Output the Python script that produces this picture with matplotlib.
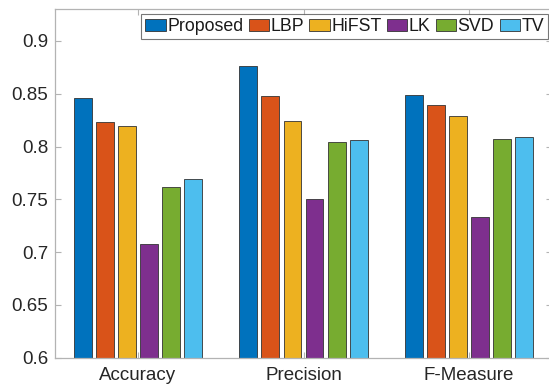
import matplotlib
matplotlib.use("Agg")
import matplotlib.pyplot as plt
import numpy as np

plt.rcParams['font.family'] = ['Liberation Sans', 'DejaVu Sans']

categories = ["Accuracy", "Precision", "F-Measure"]
methods = ["Proposed", "LBP", "HiFST", "LK", "SVD", "TV"]
proposed = [0.846, 0.876, 0.849]
lbp = [0.823, 0.848, 0.839]
hifst = [0.819, 0.824, 0.829]
lk = [0.708, 0.750, 0.733]
svd = [0.762, 0.804, 0.807]
tv = [0.769, 0.806, 0.809]
series = [proposed, lbp, hifst, lk, svd, tv]
colors = ["#0072BD", "#D95319", "#EDB120", "#7E2F8E", "#77AC30", "#4DBEEE"]
yticks = [0.6, 0.65, 0.7, 0.75, 0.8, 0.85, 0.9]
ytick_labels = ["0.6", "0.65", "0.7", "0.75", "0.8", "0.85", "0.9"]

fig = plt.figure(figsize=(5.49, 3.86), dpi=100)
ax = fig.add_axes([55/549, 1-357.7/386, 497/549, (357.7-9.3)/386])

x = np.arange(1, len(categories)+1)
pitch = 0.8/len(methods)
width = 0.108
for i, (name, vals, c) in enumerate(zip(methods, series, colors)):
    ax.bar(x + (i - 2.5)*pitch, vals, width, color=c, edgecolor='#333333',
           linewidth=0.6, label=name)

ax.set_xlim(0.5, 3.5)
ax.set_ylim(0.6, 0.93)
ax.set_xticks(x)
ax.set_xticklabels(categories)
ax.set_yticks(yticks)
ax.set_yticklabels(ytick_labels)

spine_col = '#b3b3b3'
for s in ax.spines.values():
    s.set_color(spine_col)
    s.set_linewidth(0.9)
ax.tick_params(axis='both', direction='in', length=4, width=0.8, color=spine_col,
               labelsize=13.5, labelcolor='#262626', top=True, right=True)
ax.tick_params(axis='y', pad=5)
ax.tick_params(axis='x', pad=7)

leg = ax.legend(loc='upper right', bbox_to_anchor=(548/549, 1-14.3/386),
                bbox_transform=fig.transFigure, borderaxespad=0, ncol=6,
                fontsize=12.8, frameon=True, fancybox=False, handlelength=1.15,
                handleheight=0.7, handletextpad=0.08, columnspacing=0.3,
                borderpad=0.22)
leg.get_frame().set_edgecolor('#555555')
leg.get_frame().set_linewidth(0.8)
for t in leg.get_texts():
    t.set_color('#1a1a1a')

fig.savefig("out.png", dpi=100)
